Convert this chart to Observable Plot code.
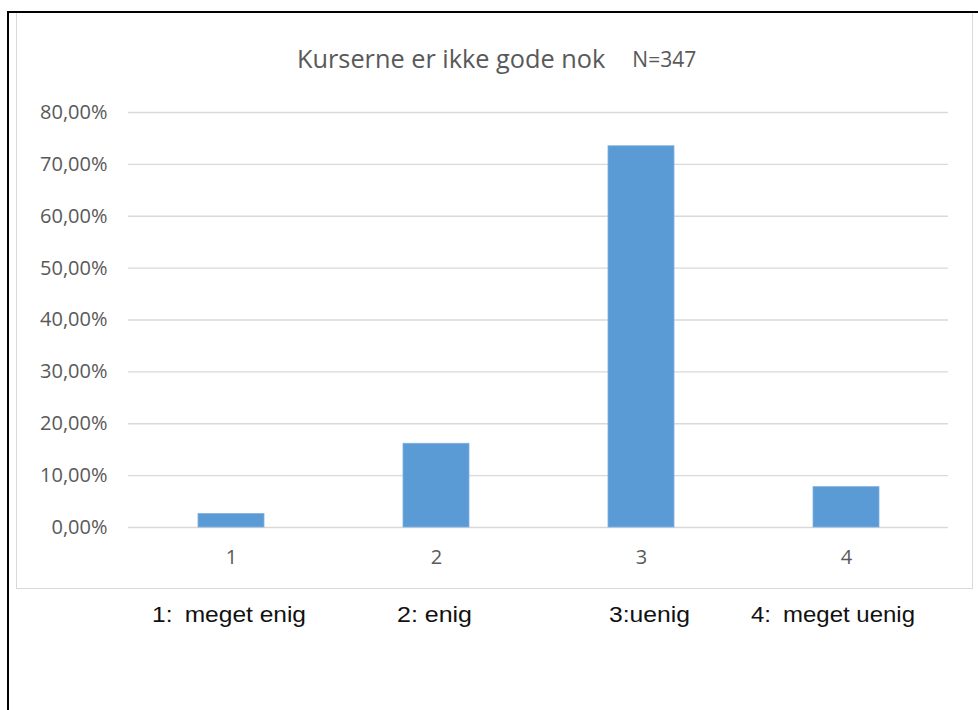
<!DOCTYPE html>
<html>
<head>
<meta charset="utf-8">
<script src="https://cdn.jsdelivr.net/npm/d3@7"></script>
<script src="https://cdn.jsdelivr.net/npm/@observablehq/plot@0.6"></script>
<style>
  html, body { margin: 0; padding: 0; background: #fff; }
  #wrap { position: relative; width: 978px; height: 710px; overflow: hidden; }
  #outer { position: absolute; left: 7px; top: 11px; width: 980px; height: 710px;
           border-left: 2px solid #000; border-top: 2px solid #000; box-sizing: border-box; }
  #box { position: absolute; left: 16px; top: 13px; width: 957px; height: 576px;
         border: 1.5px solid #d9d9d9; border-top: none; box-sizing: border-box; }
  #title { position: absolute; left: 297px; top: 41px; font-family: "Open Sans", sans-serif;
           font-size: 25.3px; color: #595959; white-space: nowrap; }
  #title .n { font-size: 21px; margin-left: 27px; position: relative; top: -1px; }
  #chart { position: absolute; left: 0; top: 0; width: 978px; height: 600px; }
  #legend { position: absolute; left: 0; top: 596px; }
</style>
</head>
<body>
<div id="wrap">
  <div id="outer"></div>
  <div id="box"></div>
  <div id="chart"></div>
  <div id="title"></div>
  <svg id="legend" width="978" height="40"></svg>
</div>
<script>
const categories = ["1", "2", "3", "4"];
const shares = [0.0259, 0.1614, 0.7349, 0.0778];
const yTicks = [0, 0.1, 0.2, 0.3, 0.4, 0.5, 0.6, 0.7, 0.8];
const titleText = "Kurserne er ikke gode nok";
const nText = "N=347";
const legendLabels = ["1:\u2002meget enig", "2: enig", "3:uenig", "4:\u2002meget uenig"];
const legendX = [152, 397, 609, 751];
const legendW = [154, 75, 81, 164];

const data = categories.map((c, i) => ({cat: c, value: shares[i]}));
const fmt = v => (v * 100).toFixed(2).replace(".", ",") + "%";

const plot = Plot.plot({
  width: 978,
  height: 600,
  marginLeft: 128,
  marginRight: 30,
  marginTop: 112,
  marginBottom: 73,
  style: {fontFamily: "'Open Sans', sans-serif", fontSize: "20px", color: "#595959", background: "transparent"},
  x: {domain: categories, paddingInner: 0.68, paddingOuter: 0.34, label: null},
  y: {domain: [0, 0.8], label: null},
  marks: [
    Plot.ruleY(yTicks, {stroke: "#d9d9d9", strokeWidth: 1.3}),
    Plot.barY(data, {x: "cat", y: "value", fill: "#5b9bd5", stroke: "#7fb0e0", strokeWidth: 0.8}),
    Plot.axisY({ticks: yTicks, tickFormat: fmt, tickSize: 0, tickPadding: 21, label: null, fill: "#595959"}),
    Plot.axisX({tickSize: 0, tickPadding: 22, label: null, fill: "#595959"})
  ]
});
d3.select(plot).selectAll("text")
  .attr("font-size", 20)
  .style("font-size", "20px")
  .style("font-family", "'Open Sans', sans-serif");
document.getElementById("chart").appendChild(plot);

const t = document.getElementById("title");
t.textContent = titleText;
const ns = document.createElement("span");
ns.className = "n";
ns.textContent = nText;
t.appendChild(ns);

const lg = d3.select("#legend");
lg.selectAll("text").data(legendLabels).join("text")
  .attr("x", (d, i) => legendX[i])
  .attr("y", 26)
  .attr("textLength", (d, i) => legendW[i])
  .attr("lengthAdjust", "spacingAndGlyphs")
  .attr("font-family", "'Liberation Sans', Arial, sans-serif")
  .attr("font-size", 22)
  .attr("fill", "#111")
  .text(d => d);
</script>
</body>
</html>
